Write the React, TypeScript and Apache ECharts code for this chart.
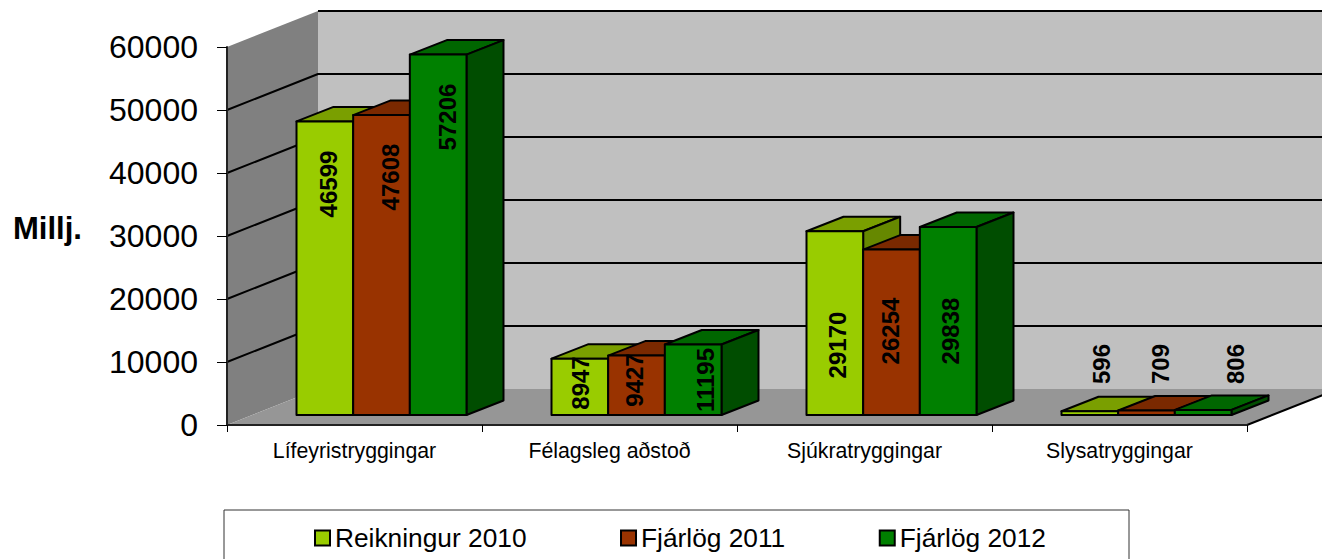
import React, { useEffect, useRef } from "react";
import * as echarts from "echarts";

const categories = ["Lífeyristryggingar", "Félagsleg aðstoð", "Sjúkratryggingar", "Slysatryggingar"];
const reikningur2010 = [46599, 8947, 29170, 596];
const fjarlog2011 = [47608, 9427, 26254, 709];
const fjarlog2012 = [57206, 11195, 29838, 806];
const seriesNames = ["Reikningur 2010", "Fjárlög 2011", "Fjárlög 2012"];
const tickValues = [10000, 20000, 30000, 40000, 50000, 60000];

// colours: front, top, side
const palette = [
  ["#99cc00", "#7a9f00", "#668800"],
  ["#993300", "#7a2900", "#662200"],
  ["#008000", "#006600", "#004d00"],
];

// hand-placed data labels in the reference (page pixels), per series
const labelX = [
  [328, 580, 837, 1101],
  [390, 634, 890, 1160],
  [447, 705, 950, 1235],
];
const labelY = [
  [184, 383, 345, 364],
  [177, 380, 331, 364],
  [117, 380, 331, 364],
];

const FONT = '"Liberation Sans", Arial, sans-serif';
const WALL_DX = 91;
const WALL_DY = 36;
const BAR_DX = 27;
const BAR_DY = 10;
const DEPTH_DX = 37;
const DEPTH_DY = 14.5;
const LINE = { stroke: "#000", lineWidth: 2, lineJoin: "round" };

function renderWalls(params: any, api: any) {
  const c = params.coordSys;
  const x0 = c.x;
  const x1 = c.x + c.width;
  const y0 = c.y + c.height;
  const yT = c.y;
  const poly = (points: number[][], fill: string) => ({
    type: "polygon",
    shape: { points },
    style: { fill },
  });
  const children: any[] = [
    poly(
      [
        [x0, yT],
        [x0 + WALL_DX, yT - WALL_DY],
        [x0 + WALL_DX, y0 - WALL_DY],
        [x0, y0],
      ],
      "#808080"
    ),
    poly(
      [
        [x0 + WALL_DX, yT - WALL_DY],
        [x1 + WALL_DX, yT - WALL_DY],
        [x1 + WALL_DX, y0 - WALL_DY],
        [x0 + WALL_DX, y0 - WALL_DY],
      ],
      "#c0c0c0"
    ),
    poly(
      [
        [x0, y0],
        [x1, y0],
        [x1 + WALL_DX, y0 - WALL_DY],
        [x0 + WALL_DX, y0 - WALL_DY],
      ],
      "#969696"
    ),
    {
      type: "polyline",
      shape: {
        points: [
          [x1, y0],
          [x1 + WALL_DX, y0 - WALL_DY],
        ],
      },
      style: { ...LINE, fill: "none" },
    },
  ];
  tickValues.forEach((v, i) => {
    const y = api.coord([0, v])[1];
    const isTop = i === tickValues.length - 1;
    const points = isTop
      ? [
          [x0 + WALL_DX, y - WALL_DY],
          [x1 + WALL_DX, y - WALL_DY],
        ]
      : [
          [x0, y],
          [x0 + WALL_DX, y - WALL_DY],
          [x1 + WALL_DX, y - WALL_DY],
        ];
    children.push({
      type: "polyline",
      shape: { points },
      style: { ...LINE, fill: "none" },
    });
  });
  return { type: "group", children };
}

function makeBarRenderer(sIdx: number) {
  return (params: any, api: any) => {
    const cat = api.value(0);
    const val = api.value(1);
    const [cx, topRaw] = api.coord([cat, val]);
    const base = api.coord([cat, 0])[1] - BAR_DY;
    const top = topRaw - BAR_DY;
    const w = api.size([1, 0])[0] / 4.5;
    const l = cx + BAR_DX + (sIdx - 1.5) * w;
    const r = l + w;
    const [front, topC, side] = palette[sIdx];
    const poly = (points: number[][], fill: string) => ({
      type: "polygon",
      shape: { points },
      style: { ...LINE, fill },
    });
    return {
      type: "group",
      children: [
        poly(
          [
            [l, top],
            [l + DEPTH_DX, top - DEPTH_DY],
            [r + DEPTH_DX, top - DEPTH_DY],
            [r, top],
          ],
          topC
        ),
        poly(
          [
            [r, top],
            [r + DEPTH_DX, top - DEPTH_DY],
            [r + DEPTH_DX, base - DEPTH_DY],
            [r, base],
          ],
          side
        ),
        poly(
          [
            [l, top],
            [r, top],
            [r, base],
            [l, base],
          ],
          front
        ),
      ],
    };
  };
}

function renderLabels(sIdx: number) {
  return (params: any, api: any) => ({
    type: "text",
    x: labelX[sIdx][params.dataIndex],
    y: labelY[sIdx][params.dataIndex],
    rotation: Math.PI / 2,
    style: {
      text: String(api.value(1)),
      fontFamily: FONT,
      fontSize: 24,
      fontWeight: "bold",
      fill: "#000",
      align: "center",
      verticalAlign: "middle",
    },
  });
}

export default function App() {
  const ref = useRef<HTMLDivElement>(null);
  useEffect(() => {
    document.body.style.margin = "0";
    document.body.style.overflow = "hidden";
    const chart = echarts.init(ref.current!, undefined, { renderer: "svg" });
    const all = [reikningur2010, fjarlog2011, fjarlog2012];
    const barSeries = all.map((vals, i) => ({
      type: "custom",
      name: seriesNames[i],
      itemStyle: { color: palette[i][0] },
      renderItem: makeBarRenderer(i),
      encode: { x: 0, y: 1 },
      data: vals.map((v, k) => [k, v]),
      z: 3,
    }));
    const labelSeries = all.map((vals, i) => ({
      type: "custom",
      name: "labels" + i,
      renderItem: renderLabels(i),
      encode: { x: 0, y: 1 },
      data: vals.map((v, k) => [k, v]),
      z: 4,
    }));
    chart.setOption({
      animation: false,
      backgroundColor: "#fff",
      textStyle: { fontFamily: FONT },
      title: {
        text: "Millj.",
        left: 13,
        top: 213,
        padding: 0,
        textStyle: { fontSize: 31, fontWeight: "bold", color: "#000", fontFamily: FONT },
      },
      grid: { left: 227, top: 47, width: 1020, height: 378, containLabel: false, outerBoundsMode: "none" },
      xAxis: {
        type: "category",
        data: categories,
        z: 5,
        axisLine: { lineStyle: { color: "#222", width: 2 } },
        axisTick: { show: true, length: 7, alignWithLabel: false, lineStyle: { color: "#000", width: 1 } },
        axisLabel: { interval: 0, fontSize: 21.3, color: "#000", margin: 15, fontFamily: FONT },
        splitLine: { show: false },
      },
      yAxis: {
        type: "value",
        min: 0,
        max: 60000,
        interval: 10000,
        z: 5,
        axisLine: { show: true, lineStyle: { color: "#222", width: 2 } },
        axisTick: { show: true, length: 10, lineStyle: { color: "#000", width: 1 } },
        axisLabel: { fontSize: 32, color: "#000", margin: 29, fontFamily: FONT, formatter: (v: number) => String(v) },
        splitLine: { show: false },
      },
      legend: {
        left: 314,
        top: 525,
        padding: 0,
        itemWidth: 15,
        itemHeight: 15,
        itemGap: 93.5,
        textStyle: { fontSize: 26.3, color: "#000", fontFamily: FONT, padding: [0, 0, 0, 0] },
        data: seriesNames.map((name, i) => ({
          name,
          icon: "rect",
          itemStyle: { color: palette[i][0], borderColor: "#000", borderWidth: 2 },
        })),
      },
      graphic: [
        {
          type: "rect",
          z: -1,
          shape: { x: 224, y: 510, width: 905, height: 70 },
          style: { fill: "#fff", stroke: "#333", lineWidth: 1 },
        },
      ],
      series: [
        {
          type: "custom",
          name: "walls",
          renderItem: renderWalls,
          encode: { x: 0, y: 1 },
          data: [[0, 0]],
          silent: true,
          z: 1,
        },
        ...barSeries,
        ...labelSeries,
      ],
    });
    return () => chart.dispose();
  }, []);
  return <div ref={ref} style={{ width: 1322, height: 559 }} />;
}
